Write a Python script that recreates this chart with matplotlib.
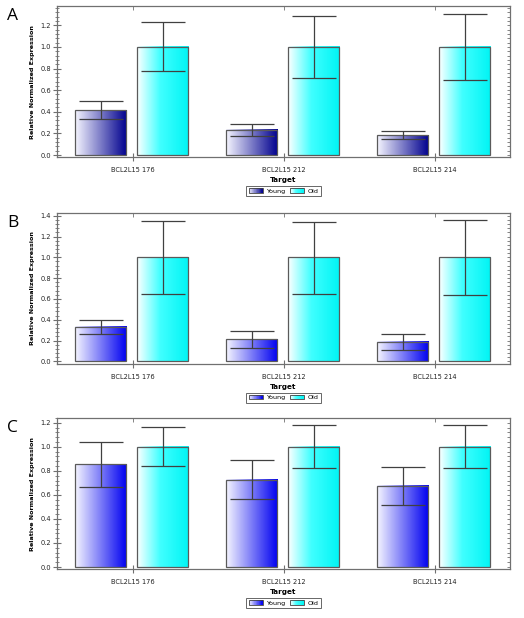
import numpy as np
import matplotlib
matplotlib.use("Agg")
import matplotlib.pyplot as plt
from matplotlib.colors import LinearSegmentedColormap
from matplotlib.legend_handler import HandlerBase
from matplotlib.patches import Rectangle
from matplotlib.ticker import AutoMinorLocator, MultipleLocator

# ---------------- data ----------------
categories = ["BCL2L15 176", "BCL2L15 212", "BCL2L15 214"]
series_names = ["Young", "Old"]
panel_labels = ["A", "B", "C"]

A_young = [0.413, 0.234, 0.185]
A_young_lo = [0.330, 0.180, 0.145]
A_young_hi = [0.500, 0.290, 0.225]
A_old = [1.0, 1.0, 1.0]
A_old_lo = [0.774, 0.710, 0.690]
A_old_hi = [1.230, 1.290, 1.308]

B_young = [0.333, 0.210, 0.186]
B_young_lo = [0.266, 0.125, 0.112]
B_young_hi = [0.397, 0.290, 0.260]
B_old = [1.0, 1.0, 1.0]
B_old_lo = [0.650, 0.650, 0.635]
B_old_hi = [1.350, 1.343, 1.362]

C_young = [0.856, 0.725, 0.675]
C_young_lo = [0.664, 0.564, 0.520]
C_young_hi = [1.042, 0.892, 0.830]
C_old = [1.0, 1.0, 1.0]
C_old_lo = [0.844, 0.822, 0.822]
C_old_hi = [1.164, 1.180, 1.178]

# ---------------- style ----------------
panels = [
    dict(young=A_young, ylo=A_young_lo, yhi=A_young_hi, old=A_old, olo=A_old_lo, ohi=A_old_hi,
         ylim=(-0.021, 1.379), ymax_tick=1.2, young_end="#00008E"),
    dict(young=B_young, ylo=B_young_lo, yhi=B_young_hi, old=B_old, olo=B_old_lo, ohi=B_old_hi,
         ylim=(-0.026, 1.429), ymax_tick=1.4, young_end="#0000F0"),
    dict(young=C_young, ylo=C_young_lo, yhi=C_young_hi, old=C_old, olo=C_old_lo, ohi=C_old_hi,
         ylim=(-0.019, 1.240), ymax_tick=1.2, young_end="#0000F0"),
]
axes_rects = [
    [0.1088, 0.7455, 0.8645, 0.2448],
    [0.1088, 0.4110, 0.8645, 0.2448],
    [0.1088, 0.0788, 0.8645, 0.2448],
]

old_cmap = LinearSegmentedColormap.from_list(
    "old", [(0.0, "#FFFFFF"), (0.45, "#40FFFF"), (1.0, "#00F4F4")])

spine_col = "#707070"
edge_col = "#5A5A5A"
err_col = "#404040"
tick_fs = 4.8
lab_fs = 4.6

plt.rcParams["font.family"] = ["DejaVu Sans"]


class GradientHandler(HandlerBase):
    def __init__(self, cmap):
        super().__init__()
        self.cmap = cmap

    def create_artists(self, legend, orig_handle, xdescent, ydescent,
                       width, height, fontsize, trans):
        n = 24
        arts = []
        for i in range(n):
            r = Rectangle((-xdescent + i * width / n, -ydescent), width / n + 0.05, height,
                          facecolor=self.cmap((i + 0.5) / n), edgecolor="none",
                          transform=trans)
            arts.append(r)
        arts.append(Rectangle((-xdescent, -ydescent), width, height, facecolor="none",
                              edgecolor="#404040", linewidth=0.6, transform=trans))
        return arts


fig = plt.figure(figsize=(5.24, 6.18), dpi=100)
x = np.arange(len(categories))
w = 0.338
off_young = -0.21
off_old = 0.20
grad = np.linspace(0, 1, 256).reshape(1, -1)

for p, rect, lab in zip(panels, axes_rects, panel_labels):
    ax = fig.add_axes(rect)
    young_cmap = LinearSegmentedColormap.from_list(
        "young", [(0.0, "#F6F6FF"), (1.0, p["young_end"])])

    for vals, lo, hi, off, cmap in [
        (p["young"], p["ylo"], p["yhi"], off_young, young_cmap),
        (p["old"], p["olo"], p["ohi"], off_old, old_cmap),
    ]:
        bars = ax.bar(x + off, vals, width=w, facecolor="none", edgecolor=edge_col,
                      linewidth=0.9, zorder=3)
        for b in bars:
            ax.imshow(grad, extent=[b.get_x(), b.get_x() + b.get_width(), 0, b.get_height()],
                      aspect="auto", cmap=cmap, zorder=2, interpolation="bilinear")
        vals_a = np.array(vals)
        yerr = [vals_a - np.array(lo), np.array(hi) - vals_a]
        ax.errorbar(x + off, vals_a, yerr=yerr, fmt="none", ecolor=err_col,
                    elinewidth=0.9, capsize=15.5, capthick=0.9, zorder=4)

    ax.set_xlim(-0.5, 2.5)
    ax.set_ylim(*p["ylim"])
    ax.set_xticks(x)
    ax.set_xticklabels(categories, fontsize=tick_fs, color="#222222")
    ax.yaxis.set_major_locator(MultipleLocator(0.2))
    ax.yaxis.set_minor_locator(AutoMinorLocator(5))
    ax.set_yticks(np.arange(0, p["ymax_tick"] + 0.001, 0.2))
    ax.set_yticklabels([f"{v:.1f}" for v in np.arange(0, p["ymax_tick"] + 0.001, 0.2)],
                       fontsize=tick_fs, color="#222222")
    ax.set_ylim(*p["ylim"])
    ax.tick_params(axis="y", which="major", direction="inout", length=6, width=0.8,
                   color=spine_col, pad=1.5)
    ax.tick_params(axis="y", which="minor", direction="inout", length=3, width=0.6,
                   color=spine_col)
    ax.tick_params(axis="x", which="major", direction="inout", length=6, width=0.8,
                   color=spine_col, pad=4)
    for s in ax.spines.values():
        s.set_color(spine_col)
        s.set_linewidth(0.9)

    # right and top tick marks (inward)
    sec_y = ax.secondary_yaxis("right")
    sec_y.yaxis.set_major_locator(MultipleLocator(0.2))
    sec_y.yaxis.set_minor_locator(AutoMinorLocator(5))
    sec_y.tick_params(which="both", direction="in", length=2, width=0.6, color=spine_col,
                      labelright=False)
    sec_y.spines["right"].set_visible(False)
    sec_x = ax.secondary_xaxis("top")
    sec_x.set_xticks(x)
    sec_x.tick_params(direction="in", length=3, width=0.6, color=spine_col, labeltop=False)
    sec_x.spines["top"].set_visible(False)

    ax.set_ylabel("Relative Normalized Expression", fontsize=lab_fs, fontweight="bold",
                  labelpad=4)
    ax.set_xlabel("Target", fontsize=5.2, fontweight="bold", labelpad=3)

    h1 = Rectangle((0, 0), 1, 1)
    h2 = Rectangle((0, 0), 1, 1)
    leg = ax.legend([h1, h2], series_names, loc="upper center",
                    bbox_to_anchor=(0.5, -0.19), ncol=2, fontsize=4.6,
                    handler_map={h1: GradientHandler(young_cmap), h2: GradientHandler(old_cmap)},
                    frameon=True, fancybox=False, edgecolor="#404040",
                    handlelength=2.2, handleheight=0.7, columnspacing=0.8,
                    handletextpad=0.5, borderpad=0.35, borderaxespad=0)
    leg.get_frame().set_linewidth(0.7)

    fig.text(0.013, rect[1] + rect[3] - 0.003, lab, fontsize=12.5, va="top", ha="left",
             family="Open Sans")

fig.savefig("out.png", dpi=100)
